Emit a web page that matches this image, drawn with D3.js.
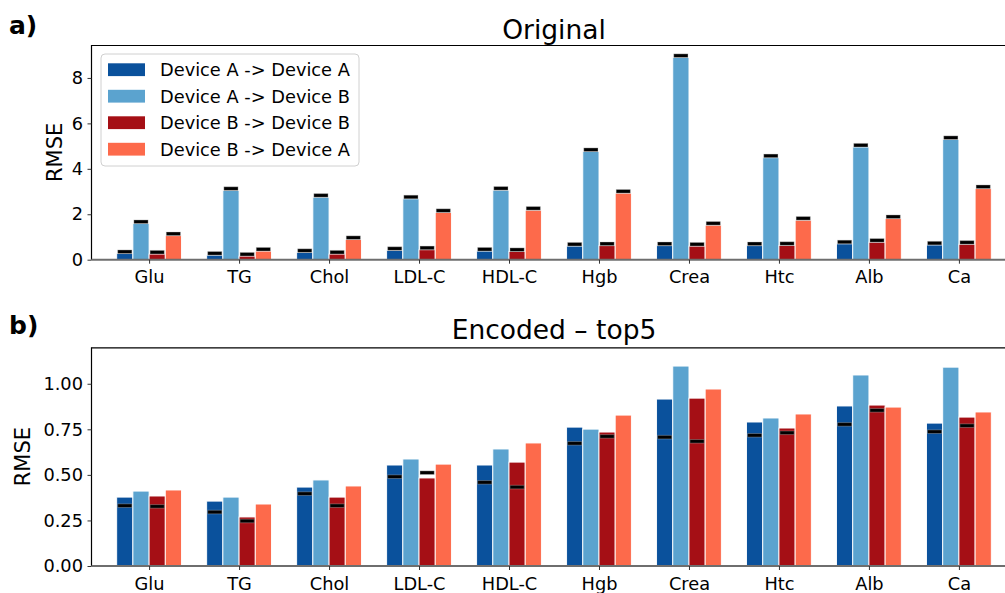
<!DOCTYPE html>
<html><head><meta charset="utf-8">
<script src="https://cdn.jsdelivr.net/npm/d3@7"></script>
<style>body{margin:0;background:#fff}svg{display:block}text{font-family:"DejaVu Sans",sans-serif}</style>
</head><body>
<svg id="c" width="1005" height="593"></svg>
<script>
const categories = ["Glu","TG","Chol","LDL-C","HDL-C","Hgb","Crea","Htc","Alb","Ca"];
const seriesNames = ["Device A -> Device A","Device A -> Device B","Device B -> Device B","Device B -> Device A"];
const seriesColors = ["#0a519c","#5ba3cf","#a50f15","#fd6a4b"];

// Panel a) Original: bar heights and black marker values
const origAA = [0.27,0.20,0.32,0.41,0.38,0.60,0.62,0.62,0.70,0.65];
const origAB = [1.59,3.05,2.75,2.68,3.06,4.76,8.90,4.49,4.96,5.29];
const origBB = [0.25,0.16,0.25,0.44,0.36,0.62,0.60,0.63,0.77,0.68];
const origBA = [1.06,0.38,0.89,2.08,2.18,2.93,1.52,1.74,1.81,3.13];
const origMarkAA = [0.35,0.28,0.40,0.49,0.46,0.68,0.70,0.70,0.78,0.73];
const origMarkAB = [1.67,3.13,2.83,2.76,3.14,4.84,8.98,4.57,5.04,5.37];
const origMarkBB = [0.33,0.24,0.33,0.52,0.44,0.70,0.68,0.71,0.85,0.76];
const origMarkBA = [1.14,0.46,0.97,2.16,2.26,3.01,1.60,1.82,1.89,3.21];
const origTicks = [0,2,4,6,8];

// Panel b) Encoded – top5
const encAA = [0.378,0.356,0.433,0.554,0.554,0.762,0.916,0.790,0.878,0.784];
const encAB = [0.411,0.378,0.472,0.587,0.642,0.751,1.097,0.812,1.048,1.091];
const encBB = [0.384,0.269,0.378,0.483,0.570,0.735,0.921,0.757,0.883,0.817];
const encBA = [0.417,0.340,0.439,0.559,0.675,0.828,0.971,0.834,0.872,0.845];
const encMarkAA = [0.331,0.296,0.397,0.490,0.459,0.673,0.707,0.717,0.777,0.737];
const encMarkBB = [0.327,0.247,0.331,0.512,0.433,0.711,0.684,0.731,0.854,0.770];
const encTicks = [0,0.25,0.5,0.75,1.0];

const svg = d3.select("#c");
const FS = 17.8;
const x = d3.scaleLinear().domain([-0.64, 9.64]).range([91.5, 1016.5]);
const bw = 0.18;

function panel(opt){
  const y = d3.scaleLinear().domain(opt.ydom).range([opt.y0, opt.y1]);
  const g = svg.append("g");
  // bars
  opt.series.forEach((vals, k) => {
    g.selectAll(null).data(vals).enter().append("rect")
      .attr("x", (d,i) => x(i + (k-1.5)*bw - bw/2))
      .attr("width", x(bw) - x(0))
      .attr("y", d => y(d))
      .attr("height", d => y(0) - y(d))
      .attr("fill", seriesColors[k])
      .attr("stroke", "#fff").attr("stroke-width", 0.9);
  });
  // markers
  opt.marks.forEach(m => {
    const k = m.k;
    g.selectAll(null).data(m.vals).enter().append("rect")
      .attr("x", (d,i) => x(i + (k-1.5)*bw - bw/2) + 1)
      .attr("width", x(bw) - x(0) - 2)
      .attr("y", d => y(d) - 1.8)
      .attr("height", 3.6)
      .attr("fill", "#000")
      .attr("stroke", "rgba(200,200,200,0.35)").attr("stroke-width", 1);
  });
  // spines
  g.append("line").attr("x1", x.range()[0]).attr("x2", 1020).attr("y1", opt.y1+0.5).attr("y2", opt.y1+0.5).attr("stroke","#000").attr("stroke-width",1.2);
  g.append("line").attr("x1", x.range()[0]).attr("x2", x.range()[0]).attr("y1", opt.y1).attr("y2", opt.y0).attr("stroke","#000").attr("stroke-width",1.2);
  g.append("line").attr("x1", x.range()[0]).attr("x2", 1020).attr("y1", opt.y0).attr("y2", opt.y0).attr("stroke","#6e6e6e").attr("stroke-width",2);
  // y axis
  const ya = d3.axisLeft(y).tickValues(opt.ticks).tickFormat(opt.fmt).tickSize(4).tickPadding(4.5);
  const yg = g.append("g").attr("transform", `translate(${x.range()[0]},0)`).call(ya);
  yg.select(".domain").remove();
  yg.selectAll("text").attr("font-size", FS).attr("font-family","DejaVu Sans").attr("fill","#000");
  yg.selectAll("line").attr("stroke","#333");
  // x axis
  const xa = d3.axisBottom(x).tickValues(d3.range(categories.length)).tickFormat(i => categories[i]).tickSize(4).tickPadding(7);
  const xg = g.append("g").attr("transform", `translate(0,${opt.y0})`).call(xa);
  xg.select(".domain").remove();
  xg.selectAll("text").attr("font-size", FS).attr("font-family","DejaVu Sans").attr("fill","#000");
  xg.selectAll("line").attr("stroke","#333");
  // title
  g.append("text").attr("x", (x.range()[0]+x.range()[1])/2).attr("y", opt.titleY)
    .attr("text-anchor","middle").attr("font-size", 26.5).text(opt.title);
  // panel label
  g.append("text").attr("x", 9).attr("y", opt.labY).attr("font-family","Liberation Sans")
    .attr("font-weight","bold").attr("font-size", 25).text(opt.lab);
  // y label
  g.append("text").attr("transform", `translate(${opt.ylabX},${(opt.y0+opt.y1)/2}) rotate(-90)`)
    .attr("text-anchor","middle").attr("font-size", 21).text("RMSE");
  return y;
}

panel({ydom:[0,9.45], y0:259.7, y1:45, ticks:origTicks, fmt:d3.format("d"),
  series:[origAA,origAB,origBB,origBA],
  marks:[{k:0,vals:origMarkAA},{k:1,vals:origMarkAB},{k:2,vals:origMarkBB},{k:3,vals:origMarkBA}],
  title:"Original", titleY:39, lab:"a)", labY:33.5, ylabX:61.5});

panel({ydom:[0,1.2], y0:566, y1:347.3, ticks:encTicks, fmt:d3.format(".2f"),
  series:[encAA,encAB,encBB,encBA],
  marks:[{k:0,vals:encMarkAA},{k:2,vals:encMarkBB}],
  title:"Encoded – top5", titleY:339, lab:"b)", labY:333.5, ylabX:30});

// legend
const lg = svg.append("g");
lg.append("rect").attr("x",101).attr("y",54).attr("width",258).attr("height",112).attr("rx",4)
  .attr("fill","rgba(255,255,255,0.85)").attr("stroke","#d0d0d0").attr("stroke-width",1);
seriesNames.forEach((n,k) => {
  const yy = 63.3 + k*26.5;
  lg.append("rect").attr("x",108).attr("y",yy).attr("width",37).attr("height",12.8).attr("fill",seriesColors[k]);
  lg.append("text").attr("x",160).attr("y",yy+12.8).attr("font-size",FS).text(n);
});
</script>
</body></html>
